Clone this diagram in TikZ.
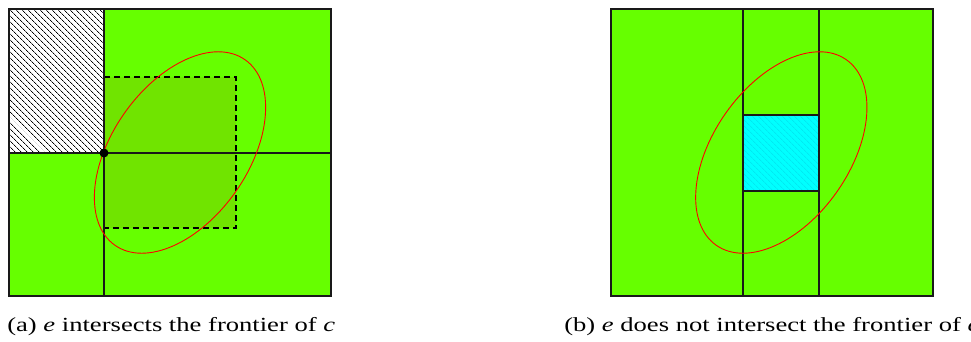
\documentclass[tikz,border=0pt]{standalone}
\usepackage{fontspec}
\setmainfont{Liberation Serif}
\usetikzlibrary{patterns.meta}
\usepackage{xcolor}
\definecolor{Cell}{RGB}{102,255,0}
\definecolor{CellDark}{RGB}{112,228,0}
\definecolor{Box}{RGB}{0,255,255}
\definecolor{BoxLine}{RGB}{0,222,235}
\tikzset{
  grid/.style={draw=black!90, line width=1.2pt},
  frame/.style={draw=black!90, line width=1.4pt},
  caption/.style={anchor=base west, inner sep=0pt, xscale=1.33, transform shape, font=\fontsize{20}{24}\selectfont}
}

\begin{document}
\begin{tikzpicture}[x=1pt, y=-1pt]
\useasboundingbox (0,0) rectangle (971,341);
\fill[Cell] (9,9) rectangle (331,296);
\fill[white] (9,9) rectangle (104,153);
\pattern[pattern={Lines[angle=-45, distance=4pt, line width=0.8pt]}] (9,9) rectangle (104,153);
\fill[CellDark] (104,77) rectangle (236,228);
\draw[dash pattern=on 6pt off 4pt, line width=1.1pt] (104,77) -- (236,77) -- (236,228) -- (104,228);
\draw[grid] (104,9) -- (104,296);
\draw[grid] (9,153) -- (331,153);
\draw[frame] (9,9) rectangle (331,296);
\draw[red, line width=0.9pt] (180,152.5) ellipse [x radius=113.3pt, y radius=68.1pt, rotate=55];
\fill[black] (104,153) circle [radius=4.5pt];

\fill[Cell] (611,9) rectangle (933,296);
\fill[Box] (743,115) rectangle (819,191);
\pattern[pattern={Lines[angle=-45, distance=4pt, line width=0.5pt]}, pattern color=BoxLine] (743,115) rectangle (819,191);
\draw[grid] (743,9) -- (743,296);
\draw[grid] (819,9) -- (819,296);
\draw[frame] (743,115) rectangle (819,191);
\draw[frame] (611,9) rectangle (933,296);
\draw[red, line width=0.9pt] (781.3,152.5) ellipse [x radius=113.3pt, y radius=68.1pt, rotate=55];

\node[caption] (capa) at (7,331) {(a) \textit{e} intersects the frontier of \textit{c}};
\node[caption] (capb) at (564,331) {(b) \textit{e} does not intersect the frontier of \textit{c}};
\end{tikzpicture}
\end{document}
